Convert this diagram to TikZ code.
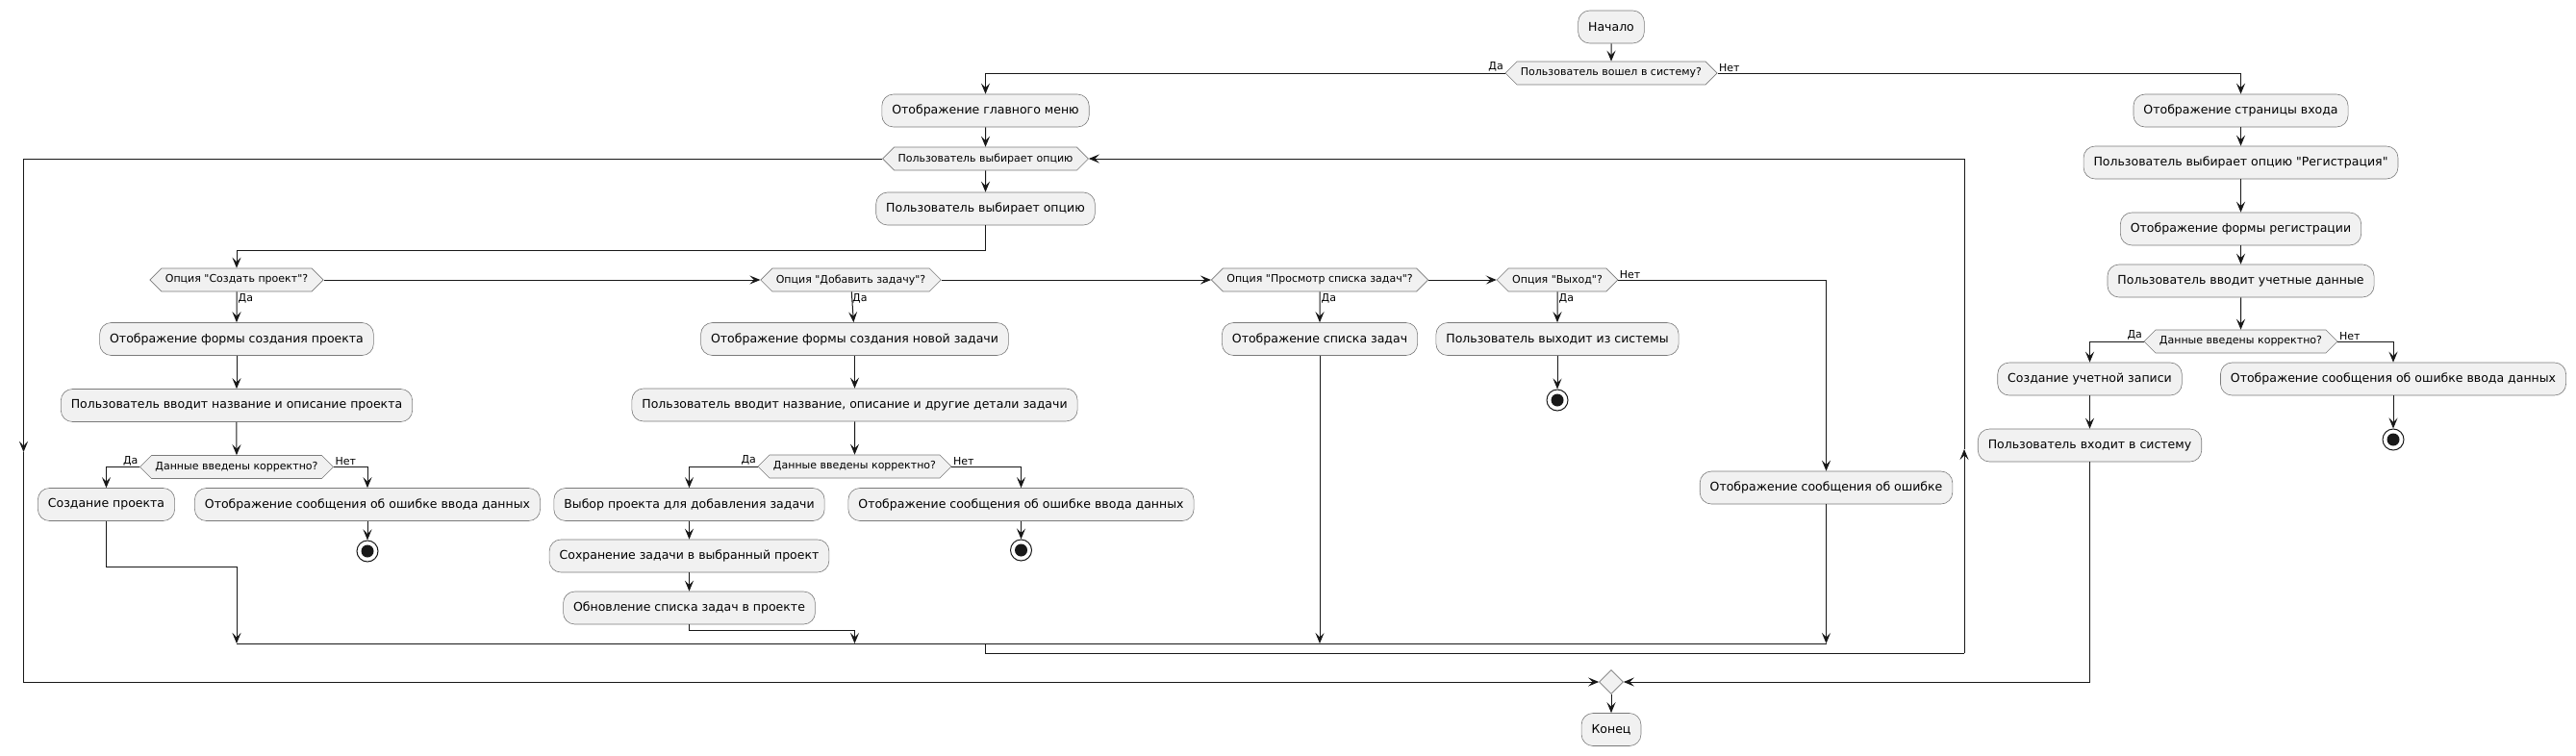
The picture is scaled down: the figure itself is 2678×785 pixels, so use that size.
\documentclass[tikz,border=0pt]{standalone}
\usepackage{fontspec}
\newfontfamily\umlfont{DejaVu Sans}
\usetikzlibrary{arrows.meta,shapes.symbols,shapes.geometric}
\definecolor{actfill}{HTML}{F1F1F1}
\definecolor{actline}{HTML}{181818}
\definecolor{actborder}{HTML}{7A7A7A}
\begin{document}
\begin{tikzpicture}[x=1pt, y=-1pt,
    action/.style={draw=actborder, fill=actfill, line width=0.6pt, rounded corners=12pt,
      minimum height=34pt, inner xsep=10.5pt, font=\umlfont\fontsize{12.5}{14}\selectfont},
    choice/.style={shape=signal, signal to=west and east, draw=actborder, fill=actfill,
      line width=0.6pt, minimum height=24pt, inner xsep=4pt, inner ysep=0pt,
      font=\umlfont\fontsize{11}{13}\selectfont},
    stopnode/.style={circle, draw=actline, fill=white, line width=1pt, minimum size=22pt,
      inner sep=0, path picture={\fill[actline] (path picture bounding box.center) circle (6.5pt);}},
    merge/.style={diamond, draw=actborder, fill=actfill, line width=0.6pt, minimum size=25pt, inner sep=0},
    flow/.style={draw=actline, line width=1pt, -{Stealth[length=11pt,width=9pt,inset=4.5pt]}},
    wire/.style={draw=actline, line width=1pt},
    guard/.style={font=\umlfont\fontsize{11}{13}\selectfont, inner sep=1.5pt}]
  \useasboundingbox (0,0) rectangle (2678,785);

  \node [action] (start) at (1675,28) {Начало};
  \node [choice] (logged) at (1675,76) {Пользователь вошел в систему?};
  \node [action] (menu) at (1024.5,115) {Отображение главного меню};
  \node [choice] (loopq) at (1024.5,165) {Пользователь выбирает опцию};
  \node [action] (choose) at (1024.5,217) {Пользователь выбирает опцию};

  \node [choice] (optcreate) at (246,291) {Опция "Создать проект"?};
  \node [choice] (optadd) at (884.5,291) {Опция "Добавить задачу"?};
  \node [choice] (optlist) at (1372,291) {Опция "Просмотр списка задач"?};
  \node [choice] (optexit) at (1619,291) {Опция "Выход"?};

  \node [action] (pform) at (246,352.5) {Отображение формы создания проекта};
  \node [action] (pinput) at (246,421.5) {Пользователь вводит название и описание проекта};
  \node [choice] (pcheck) at (246,485.5) {Данные введены корректно?};
  \node [action] (pmake) at (110.5,524.5) {Создание проекта};
  \node [action] (perr) at (382,524.5) {Отображение сообщения об ошибке ввода данных};
  \node [stopnode] (pstop) at (382,573) {};

  \node [action] (tform) at (888.5,352.5) {Отображение формы создания новой задачи};
  \node [action] (tinput) at (888.5,421) {Пользователь вводит название, описание и другие детали задачи};
  \node [choice] (tcheck) at (888.5,485) {Данные введены корректно?};
  \node [action] (tpick) at (716.5,524.5) {Выбор проекта для добавления задачи};
  \node [action] (terr) at (1061.5,524.5) {Отображение сообщения об ошибке ввода данных};
  \node [stopnode] (tstop) at (1061.5,572) {};
  \node [action] (tsave) at (716.5,578) {Сохранение задачи в выбранный проект};
  \node [action] (tupd) at (716.5,632) {Обновление списка задач в проекте};

  \node [action] (lshow) at (1372,352.5) {Отображение списка задач};
  \node [action] (xout) at (1619,352.5) {Пользователь выходит из системы};
  \node [stopnode] (xstop) at (1619,416) {};
  \node [action] (oerr) at (1898.5,507) {Отображение сообщения об ошибке};

  \node [action] (rpage) at (2329.5,115) {Отображение страницы входа};
  \node [action] (rpick) at (2329.5,169) {Пользователь выбирает опцию "Регистрация"};
  \node [action] (rform) at (2329.5,238) {Отображение формы регистрации};
  \node [action] (rinput) at (2329.5,292) {Пользователь вводит учетные данные};
  \node [choice] (rcheck) at (2329.5,355) {Данные введены корректно?};
  \node [action] (racc) at (2172.5,394) {Создание учетной записи};
  \node [action] (rlogin) at (2172.5,463) {Пользователь входит в систему};
  \node [action] (rerr) at (2488,394) {Отображение сообщения об ошибке ввода данных};
  \node [stopnode] (rstop) at (2488,457) {};

  \node [merge] (endmerge) at (1675,709) {};
  \node [action] (finish) at (1675,758.5) {Конец};

  \coordinate (split) at (1024.5,260);
  \coordinate (jp) at (246,589);
  \coordinate (jt) at (888.5,655);
  \coordinate (jn1) at (246,669);
  \coordinate (jn2) at (888.5,669);
  \coordinate (jn3) at (1372,669);
  \coordinate (jn4) at (1898.5,669);
  \coordinate (jmid) at (1024.5,669);
  \coordinate (jlow) at (1024.5,679);
  \coordinate (backlow) at (2042,679);
  \coordinate (backmid) at (2042,467);
  \coordinate (exitmid) at (24.5,470);

  \draw [flow] (start) -- (logged);
  \draw [flow] (logged.west) -| (menu.north);
  \draw [flow] (logged.east) -| (rpage.north);
  \node [guard, anchor=south east] at (logged.west) {Да};
  \node [guard, anchor=south west] at (logged.east) {Нет};
  \draw [flow] (menu) -- (loopq);
  \draw [flow] (loopq) -- (choose);
  \draw [flow] (choose.south) -- (split) -| (optcreate.north);

  \draw [flow] (optcreate.east) -- (optadd.west);
  \draw [flow] (optadd.east) -- (optlist.west);
  \draw [flow] (optlist.east) -- (optexit.west);
  \draw [flow] (optexit.east) -| (oerr.north);
  \node [guard, anchor=south west] at (optexit.east) {Нет};

  \draw [flow] (optcreate) -- (pform);
  \node [guard, anchor=north west] at (optcreate.south) {Да};
  \draw [flow] (pform) -- (pinput);
  \draw [flow] (pinput) -- (pcheck);
  \draw [flow] (pcheck.west) -| (pmake.north);
  \draw [flow] (pcheck.east) -| (perr.north);
  \node [guard, anchor=south east] at (pcheck.west) {Да};
  \node [guard, anchor=south west] at (pcheck.east) {Нет};
  \draw [flow] (perr) -- (pstop);
  \draw [flow] (pmake.south) |- (jp) -- (jn1);

  \draw [flow] (optadd) -- (tform);
  \node [guard, anchor=north west] at (optadd.south) {Да};
  \draw [flow] (tform) -- (tinput);
  \draw [flow] (tinput) -- (tcheck);
  \draw [flow] (tcheck.west) -| (tpick.north);
  \draw [flow] (tcheck.east) -| (terr.north);
  \node [guard, anchor=south east] at (tcheck.west) {Да};
  \node [guard, anchor=south west] at (tcheck.east) {Нет};
  \draw [flow] (terr) -- (tstop);
  \draw [flow] (tpick) -- (tsave);
  \draw [flow] (tsave) -- (tupd);
  \draw [flow] (tupd.south) |- (jt) -- (jn2);

  \draw [flow] (optlist) -- (lshow);
  \node [guard, anchor=north west] at (optlist.south) {Да};
  \draw [flow] (lshow) -- (jn3);
  \draw [flow] (optexit) -- (xout);
  \node [guard, anchor=north west] at (optexit.south) {Да};
  \draw [flow] (xout) -- (xstop);
  \draw [flow] (oerr) -- (jn4);

  \draw [wire] (jn1) -- (jn4);
  \draw [wire] (jmid) -- (jlow) -- (backlow);
  \draw [flow] (backlow) -- (backmid);
  \draw [flow] (backmid) |- (loopq.east);
  \draw [flow] (loopq.west) -| (exitmid);
  \draw [flow] (exitmid) |- (endmerge.west);

  \draw [flow] (rpage) -- (rpick);
  \draw [flow] (rpick) -- (rform);
  \draw [flow] (rform) -- (rinput);
  \draw [flow] (rinput) -- (rcheck);
  \draw [flow] (rcheck.west) -| (racc.north);
  \draw [flow] (rcheck.east) -| (rerr.north);
  \node [guard, anchor=south east] at (rcheck.west) {Да};
  \node [guard, anchor=south west] at (rcheck.east) {Нет};
  \draw [flow] (racc) -- (rlogin);
  \draw [flow] (rerr) -- (rstop);
  \draw [flow] (rlogin.south) |- (endmerge.east);
  \draw [flow] (endmerge) -- (finish);
\end{tikzpicture}
\end{document}
